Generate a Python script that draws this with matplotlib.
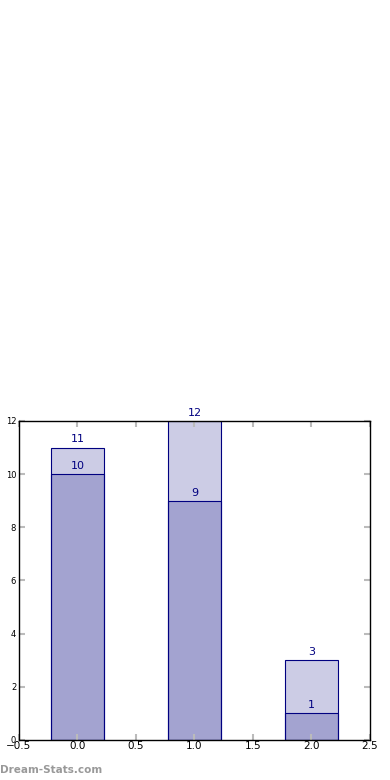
import matplotlib
matplotlib.use("Agg")
import matplotlib.pyplot as plt

positions = [0, 1, 2]
back_values = [11, 12, 3]
front_values = [10, 9, 1]

fig = plt.figure(figsize=(3.9, 7.8), dpi=100)
ax = fig.add_axes([0.0487, 0.0513, 0.9, 0.409])

ax.bar(positions, back_values, width=0.45, color='navy', alpha=0.2, align='center')
ax.bar(positions, back_values, width=0.45, fill=False, edgecolor='navy', linewidth=0.8, align='center')
ax.bar(positions, front_values, width=0.45, color='navy', alpha=0.2, align='center')
ax.bar(positions, front_values, width=0.45, fill=False, edgecolor='navy', linewidth=0.8, align='center')

for x, v in zip(positions, back_values):
    ax.text(x, v + 0.12, str(v), ha='center', va='bottom', color='navy', fontsize=8)
for x, v in zip(positions, front_values):
    ax.text(x, v + 0.12, str(v), ha='center', va='bottom', color='navy', fontsize=8)

ax.set_xlim(-0.5, 2.5)
ax.set_ylim(0, 12)
ax.set_xticks([-0.5, 0.0, 0.5, 1.0, 1.5, 2.0, 2.5])
ax.set_yticks([0, 2, 4, 6, 8, 10, 12])
ax.tick_params(direction='in', colors='#bbbbbb', labelcolor='black', top=True, right=True, length=4, width=1.5)
ax.tick_params(axis='x', labelsize=7.5, pad=1)
ax.tick_params(axis='y', labelsize=6, pad=2)
for s in ax.spines.values():
    s.set_linewidth(1.0)
    s.set_color('black')

fig.text(0.0, 0.006, 'Dream-Stats.com', color='#999999', fontsize=7.5, fontweight='bold', ha='left', va='bottom')

fig.savefig('out.png', dpi=100)
